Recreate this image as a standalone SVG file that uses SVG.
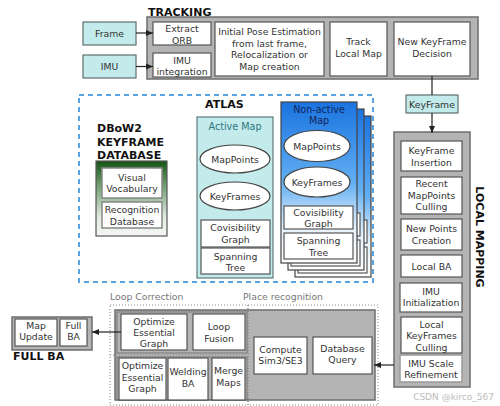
<svg xmlns="http://www.w3.org/2000/svg" width="500" height="406" viewBox="0 0 500 406">
<defs>
<style>
.t{font-family:"DejaVu Sans","Liberation Sans",sans-serif;font-size:9.3px;fill:#333;text-anchor:middle}
.h{font-family:"DejaVu Sans","Liberation Sans",sans-serif;font-size:11px;font-weight:bold;fill:#111}
.lbl{font-family:"DejaVu Sans","Liberation Sans",sans-serif;font-size:9.3px;fill:#777}
.w{fill:#fff;stroke:#555;stroke-width:1.2}
.g{fill:#b4b4b4;stroke:#6e6e6e;stroke-width:1.5}
.teal{fill:#c3ebeb;stroke:#5f6f6f;stroke-width:1.2}
.el{fill:#fff;stroke:#444;stroke-width:1.2}
.dot{fill:none;stroke:#888;stroke-width:1;stroke-dasharray:1 2}
.c{fill:none;stroke:#222;stroke-width:1.2}
</style>
<linearGradient id="gGreen" x1="0" y1="0" x2="0" y2="1">
<stop offset="0" stop-color="#145214"/>
<stop offset="0.3" stop-color="#6a9a6a"/>
<stop offset="0.75" stop-color="#e2ece2"/>
<stop offset="1" stop-color="#f4f7f4"/>
</linearGradient>
<linearGradient id="gBlue" x1="0" y1="0" x2="0" y2="1">
<stop offset="0" stop-color="#1a74e0"/>
<stop offset="0.5" stop-color="#62aef2"/>
<stop offset="0.78" stop-color="#e6f2fd"/>
<stop offset="1" stop-color="#ffffff"/>
</linearGradient>
<marker id="ah" markerWidth="8" markerHeight="8" refX="7" refY="4" orient="auto" markerUnits="userSpaceOnUse">
<path d="M0,1 L7,4 L0,7 Z" fill="#222"/>
</marker>
<g id="nonactive">
<rect x="281" y="102" width="76" height="161" fill="url(#gBlue)" stroke="#444" stroke-width="1.2"/>
<rect x="284" y="206" width="69" height="23" class="w"/>
<rect x="284" y="233" width="69" height="26" class="w"/>
</g>
</defs>

<!-- TRACKING -->
<g id="tracking">
<text x="148" y="16" class="h">TRACKING</text>
<rect x="147" y="17" width="331" height="62" class="g"/>
</g>
<g id="frame"><rect x="83" y="22" width="53" height="23" class="teal"/><text x="109.5" y="37" class="t">Frame</text></g>
<g id="imu"><rect x="83" y="55" width="53" height="23" class="teal"/><text x="109.5" y="70" class="t">IMU</text></g>
<g id="extract-orb"><rect x="153" y="22" width="58" height="23" class="w"/><text x="182" y="32" class="t">Extract</text><text x="182" y="43.5" class="t">ORB</text></g>
<g id="imu-integration"><rect x="153" y="53" width="58" height="24" class="w"/><text x="182" y="63.5" class="t">IMU</text><text x="182" y="75" class="t">integration</text></g>
<g id="initial-pose"><rect x="215" y="22" width="109" height="54" class="w"/>
<text x="269.5" y="35" class="t">Initial Pose Estimation</text><text x="269.5" y="46.5" class="t">from last frame,</text><text x="269.5" y="58" class="t">Relocalization or</text><text x="269.5" y="69.5" class="t">Map creation</text></g>
<g id="track-local-map"><rect x="330" y="22" width="57" height="54" class="w"/><text x="358.5" y="45" class="t">Track</text><text x="358.5" y="57" class="t">Local Map</text></g>
<g id="new-kf-decision"><rect x="394" y="22" width="76" height="54" class="w"/><text x="432" y="45" class="t">New KeyFrame</text><text x="432" y="57" class="t">Decision</text></g>

<g id="keyframe"><rect x="406" y="95" width="52" height="18" class="teal"/><text x="432" y="107.5" class="t">KeyFrame</text></g>

<!-- LOCAL MAPPING -->
<g id="local-mapping">
<rect x="394" y="132" width="76" height="255" class="g"/>
<text transform="translate(476,237) rotate(90)" class="h" text-anchor="middle">LOCAL MAPPING</text>
</g>
<g id="kf-insertion"><rect x="401" y="141" width="61" height="30" class="w"/><text x="431.5" y="154" class="t">KeyFrame</text><text x="431.5" y="165.5" class="t">Insertion</text></g>
<g id="mp-culling"><rect x="401" y="177" width="61" height="37" class="w"/><text x="431.5" y="187" class="t">Recent</text><text x="431.5" y="198.5" class="t">MapPoints</text><text x="431.5" y="210" class="t">Culling</text></g>
<g id="new-points"><rect x="401" y="219" width="61" height="31" class="w"/><text x="431.5" y="232" class="t">New Points</text><text x="431.5" y="243.5" class="t">Creation</text></g>
<g id="local-ba"><rect x="401" y="255" width="61" height="22" class="w"/><text x="431.5" y="269.5" class="t">Local BA</text></g>
<g id="imu-init"><rect x="400" y="283" width="62" height="29" class="w"/><text x="431" y="294.5" class="t">IMU</text><text x="431" y="306" class="t">Initialization</text></g>
<g id="kf-culling"><rect x="401" y="317" width="61" height="36" class="w"/><text x="431.5" y="327.5" class="t">Local</text><text x="431.5" y="339" class="t">KeyFrames</text><text x="431.5" y="350.5" class="t">Culling</text></g>
<g id="imu-scale"><rect x="400" y="355" width="62" height="27" fill="#fff" stroke="#999" stroke-width="1.5"/><text x="431" y="366.5" class="t">IMU Scale</text><text x="431" y="378" class="t">Refinement</text></g>

<!-- ATLAS -->
<g id="atlas">
<rect x="79" y="95" width="294" height="187" fill="none" stroke="#5ba3de" stroke-width="2" stroke-dasharray="5 4"/>
<text x="205" y="108" class="h">ATLAS</text>
</g>
<g id="dbow2">
<text x="97" y="132" class="h">DBoW2</text>
<text x="97" y="145.5" class="h">KEYFRAME</text>
<text x="97" y="159" class="h">DATABASE</text>
<rect x="96" y="161" width="71" height="75" fill="url(#gGreen)" stroke="#555" stroke-width="1.2"/>
<rect x="102" y="168" width="60" height="30" fill="#fff" stroke="#888" stroke-width="1.5"/>
<text x="132" y="181" class="t">Visual</text><text x="132" y="192" class="t">Vocabulary</text>
<rect x="102" y="202" width="60" height="26" fill="#fff" stroke="#888" stroke-width="1.5"/>
<text x="132" y="213" class="t">Recognition</text><text x="132" y="224.5" class="t">Database</text>
</g>
<g id="active-map">
<rect x="197" y="117" width="76" height="161" fill="#c3ebeb" stroke="#5f7a7a" stroke-width="1.2"/>
<text x="235" y="130" class="t" style="fill:#2e7680;font-size:9.6px">Active Map</text>
<ellipse cx="235" cy="159" rx="35" ry="14" class="el"/><text x="235" y="162.5" class="t">MapPoints</text>
<ellipse cx="235" cy="196" rx="35" ry="14" class="el"/><text x="235" y="199.5" class="t">KeyFrames</text>
<rect x="201" y="220" width="69" height="27" class="w"/><text x="235.5" y="231" class="t">Covisibility</text><text x="235.5" y="243" class="t">Graph</text>
<rect x="201" y="248" width="69" height="26" class="w"/><text x="235.5" y="259.5" class="t">Spanning</text><text x="235.5" y="271" class="t">Tree</text>
</g>
<g id="non-active-map">
<use href="#nonactive" x="14" y="14"/>
<use href="#nonactive" x="7" y="7"/>
<use href="#nonactive"/>
<text x="319" y="113" class="t" style="fill:#14245a;font-size:9.6px">Non-active</text>
<text x="319" y="124" class="t" style="fill:#14245a;font-size:9.6px">Map</text>
<ellipse cx="317" cy="146" rx="33" ry="15.5" class="el"/><text x="317" y="149.5" class="t">MapPoints</text>
<ellipse cx="317" cy="182" rx="33" ry="15" class="el"/><text x="317" y="185.5" class="t">KeyFrames</text>
<text x="318.5" y="215.5" class="t">Covisibility</text><text x="318.5" y="227" class="t">Graph</text>
<text x="318.5" y="244" class="t">Spanning</text><text x="318.5" y="256" class="t">Tree</text>
</g>

<!-- LOOP CLOSING -->
<g id="loop-closing">
<rect x="115" y="310" width="260" height="90" fill="#b4b4b4" stroke="#6e6e6e" stroke-width="1.5"/>
<rect x="110" y="305" width="138" height="100" class="dot"/>
<rect x="248" y="305" width="130" height="100" class="dot"/>
<line x1="110" y1="355" x2="248" y2="355" class="dot"/>
<rect x="117" y="312" width="130" height="41" fill="none" stroke="#777" stroke-width="1"/>
<rect x="117" y="357" width="130" height="43" fill="none" stroke="#777" stroke-width="1"/>
<text x="110" y="300" class="lbl">Loop Correction</text>
<text x="243" y="300" class="lbl">Place recognition</text>
</g>
<g id="opt-eg-1"><rect x="121" y="314" width="66" height="36" class="w"/><text x="154" y="325" class="t">Optimize</text><text x="154" y="336" class="t">Essential</text><text x="154" y="347" class="t">Graph</text></g>
<g id="loop-fusion"><rect x="193" y="314" width="52" height="36" class="w"/><text x="219" y="330" class="t">Loop</text><text x="219" y="341.5" class="t">Fusion</text></g>
<g id="opt-eg-2"><rect x="119" y="358" width="47" height="42" class="w"/><text x="142.5" y="369" class="t">Optimize</text><text x="142.5" y="380.5" class="t">Essential</text><text x="142.5" y="392" class="t">Graph</text></g>
<g id="welding-ba"><rect x="168" y="358" width="40" height="42" class="w"/><text x="188" y="375" class="t">Welding</text><text x="188" y="387" class="t">BA</text></g>
<g id="merge-maps"><rect x="212" y="358" width="33" height="42" class="w"/><text x="228.5" y="374" class="t">Merge</text><text x="228.5" y="386" class="t">Maps</text></g>
<g id="compute-sim3"><rect x="254" y="337" width="53" height="37" class="w"/><text x="280.5" y="353" class="t">Compute</text><text x="280.5" y="364" class="t">Sim3/SE3</text></g>
<g id="db-query"><rect x="313" y="337" width="59" height="37" class="w"/><text x="342.5" y="352" class="t">Database</text><text x="342.5" y="363" class="t">Query</text></g>

<!-- FULL BA -->
<g id="full-ba">
<rect x="12" y="317" width="80" height="33" class="g"/>
<rect x="15" y="319" width="42" height="27" class="w"/><text x="36" y="328.5" class="t">Map</text><text x="36" y="340" class="t">Update</text>
<rect x="60" y="319" width="27" height="27" class="w"/><text x="73.5" y="328.5" class="t">Full</text><text x="73.5" y="340" class="t">BA</text>
<text x="13" y="360" class="h">FULL BA</text>
</g>

<g id="connectors">
<line x1="136" y1="33" x2="153" y2="33" class="c" marker-end="url(#ah)"/>
<line x1="136" y1="66.5" x2="153" y2="66.5" class="c" marker-end="url(#ah)"/>
<line x1="432" y1="76" x2="432" y2="95" class="c"/>
<line x1="432" y1="113" x2="432" y2="133" class="c" marker-end="url(#ah)"/>
<line x1="394" y1="365" x2="374" y2="365" class="c" marker-end="url(#ah)"/>
<line x1="121" y1="332" x2="92" y2="332" class="c" marker-end="url(#ah)"/>
</g>

<text x="494" y="400" style="font-family:'DejaVu Sans',sans-serif;font-size:9px;fill:#bbb;text-anchor:end">CSDN @kirco_567</text>
</svg>
